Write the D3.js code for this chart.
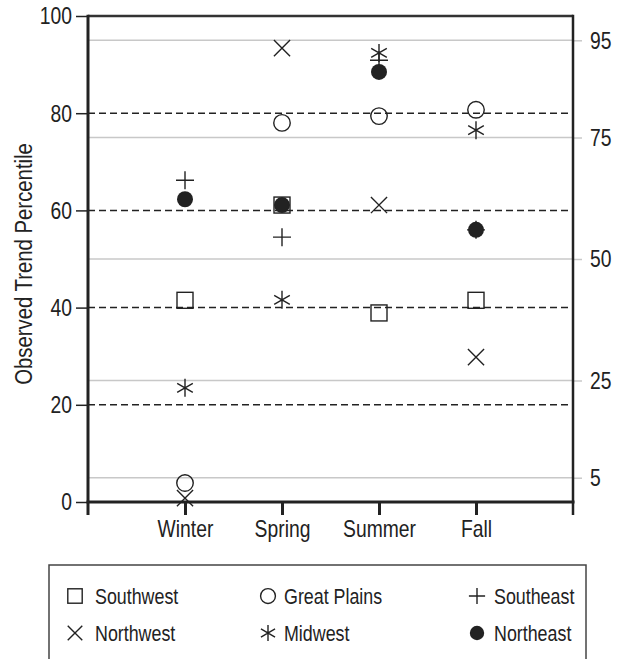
<!DOCTYPE html>
<html>
<head>
<meta charset="utf-8">
<script src="https://cdn.jsdelivr.net/npm/d3@7/dist/d3.min.js"></script>
<style>
  html, body { margin: 0; padding: 0; background: #fff; }
  svg { display: block; }
</style>
</head>
<body>
<script>
// ---- data ----
const seasons = ["Winter", "Spring", "Summer", "Fall"];
const regionNames = ["Southwest", "Great Plains", "Southeast", "Northwest", "Midwest", "Northeast"];
const southwest   = [41.5, 61.1, 38.9, 41.5];
const greatPlains = [3.9, 78.0, 79.4, 80.7];
const southeast   = [66.2, 54.5, 90.9, 56.0];
const northwest   = [0.8, 93.4, 61.1, 29.8];
const midwest     = [23.5, 41.6, 92.4, 76.5];
const northeast   = [62.3, 61.1, 88.5, 56.0];
const leftTicks   = [0, 20, 40, 60, 80, 100];
const dashedLevels = [20, 40, 60, 80];
const rightTicks  = [5, 25, 50, 75, 95];
const yTitle = "Observed Trend Percentile";

const FONT = "'Liberation Sans', Arial, Helvetica, sans-serif";
const INK = "#222";
const K = 0.84; // horizontal condensing of the text

const W = 626, H = 659;
const plot = {left: 88, right: 573, top: 16, bottom: 502};

const svg = d3.select("body").append("svg").attr("width", W).attr("height", H)
  .style("font-family", FONT);

const x = d3.scalePoint().domain(seasons).range([plot.left, plot.right]).padding(1);
const y = d3.scaleLinear().domain([0, 100]).range([plot.bottom, plot.top]);

// condense text horizontally around its anchor point
function condense(sel, k) {
  sel.each(function () {
    const t = d3.select(this);
    const tx = +t.attr("x") || 0, ty = +t.attr("y") || 0;
    t.attr("x", 0).attr("y", 0).attr("transform", `translate(${tx},${ty}) scale(${k},1)`);
  });
}

// gridlines (light) at right-axis levels
svg.append("g").selectAll("line").data(rightTicks).join("line")
  .attr("x1", plot.left).attr("x2", plot.right)
  .attr("y1", d => y(d)).attr("y2", d => y(d))
  .attr("stroke", "#c8c8c8").attr("stroke-width", 1.5);

// dashed lines
svg.append("g").selectAll("line").data(dashedLevels).join("line")
  .attr("x1", plot.left).attr("x2", plot.right)
  .attr("y1", d => y(d)).attr("y2", d => y(d))
  .attr("stroke", INK).attr("stroke-width", 1.5).attr("stroke-dasharray", "7,4");

// left axis
const gl = svg.append("g").attr("transform", `translate(${plot.left},0)`)
  .call(d3.axisLeft(y).tickValues(leftTicks).tickSize(12).tickPadding(4));
gl.select(".domain").remove();
gl.selectAll(".tick line").attr("stroke", INK).attr("stroke-width", 1.5);
gl.selectAll(".tick text").attr("fill", INK).style("font-size", "23px").style("font-family", FONT).attr("dy", "0.34em")
  .call(condense, K);

// right axis
const gr = svg.append("g").attr("transform", `translate(${plot.right},0)`)
  .call(d3.axisRight(y).tickValues(rightTicks).tickSize(9).tickPadding(8));
gr.select(".domain").remove();
gr.selectAll(".tick line").attr("stroke", "#c8c8c8").attr("stroke-width", 1.5);
gr.selectAll(".tick text").attr("fill", INK).style("font-size", "23px").style("font-family", FONT).attr("dy", "0.34em")
  .call(condense, K);

// bottom axis
const gb = svg.append("g").attr("transform", `translate(0,${plot.bottom})`)
  .call(d3.axisBottom(x).tickSize(13).tickPadding(6));
gb.select(".domain").remove();
gb.selectAll(".tick line").attr("stroke", INK).attr("stroke-width", 3);
gb.selectAll(".tick text").attr("fill", INK).style("font-size", "23px").style("font-family", FONT)
  .call(condense, K);

// frame lines
svg.append("line").attr("x1", plot.left).attr("x2", plot.right).attr("y1", plot.top).attr("y2", plot.top)
  .attr("stroke", "#333").attr("stroke-width", 2.5);
svg.append("line").attr("x1", plot.left - 1.5).attr("x2", plot.right + 1.5).attr("y1", plot.bottom).attr("y2", plot.bottom)
  .attr("stroke", INK).attr("stroke-width", 3);
svg.append("line").attr("x1", plot.left).attr("x2", plot.left).attr("y1", plot.top - 1.25).attr("y2", 515)
  .attr("stroke", INK).attr("stroke-width", 3);
svg.append("line").attr("x1", plot.right).attr("x2", plot.right).attr("y1", plot.top - 1.25).attr("y2", 515)
  .attr("stroke", INK).attr("stroke-width", 2.5);

// y title
svg.append("text").attr("transform", `translate(24,${(plot.top + plot.bottom) / 2 + 5}) rotate(-90) scale(0.83,1)`)
  .attr("text-anchor", "middle").attr("dominant-baseline", "central")
  .attr("fill", INK).style("font-size", "24.5px").text(yTitle);

// ---- symbols ----
function drawSymbol(g, type, cx, cy, s) {
  const h = s / 2;
  const stroke = {stroke: INK, "stroke-width": 1.4, fill: "none"};
  const apply = (sel, attrs) => { for (const k in attrs) sel.attr(k, attrs[k]); return sel; };
  if (type === "square") {
    apply(g.append("rect").attr("x", cx - h).attr("y", cy - h).attr("width", s).attr("height", s), stroke);
  } else if (type === "circle") {
    apply(g.append("circle").attr("cx", cx).attr("cy", cy).attr("r", h), stroke);
  } else if (type === "plus") {
    apply(g.append("path").attr("d", `M${cx - h},${cy}H${cx + h}M${cx},${cy - h}V${cy + h}`), stroke);
  } else if (type === "x") {
    const d = h * 0.95;
    apply(g.append("path").attr("d", `M${cx - d},${cy - d}L${cx + d},${cy + d}M${cx - d},${cy + d}L${cx + d},${cy - d}`), stroke);
  } else if (type === "asterisk") {
    const dx = h * 0.87, dy = h * 0.5;
    apply(g.append("path").attr("d",
      `M${cx},${cy - h}V${cy + h}M${cx - dx},${cy - dy}L${cx + dx},${cy + dy}M${cx - dx},${cy + dy}L${cx + dx},${cy - dy}`), stroke);
  } else if (type === "dot") {
    g.append("circle").attr("cx", cx).attr("cy", cy).attr("r", h).attr("fill", INK);
  }
}

const series = [
  {name: regionNames[0], type: "square",   values: southwest,   size: 16},
  {name: regionNames[1], type: "circle",   values: greatPlains, size: 16.5},
  {name: regionNames[2], type: "plus",     values: southeast,   size: 18},
  {name: regionNames[3], type: "x",        values: northwest,   size: 17},
  {name: regionNames[4], type: "asterisk", values: midwest,     size: 18},
  {name: regionNames[5], type: "dot",      values: northeast,   size: 16}
];

const marks = svg.append("g");
series.forEach(s => {
  s.values.forEach((v, i) => {
    drawSymbol(marks.append("g"), s.type, x(seasons[i]), y(v), s.size);
  });
});

// ---- legend ----
const lg = svg.append("g");
lg.append("rect").attr("x", 49).attr("y", 565).attr("width", 537).attr("height", 130)
  .attr("fill", "none").attr("stroke", "#444").attr("stroke-width", 1.5);
const colSym = [75, 268, 477];
const colText = [95, 284, 494];
const rowY = [596, 633];
series.forEach((s, k) => {
  const col = k % 3, row = Math.floor(k / 3);
  drawSymbol(lg.append("g"), s.type, colSym[col], rowY[row], s.size * 0.9);
  lg.append("text").attr("x", colText[col]).attr("y", rowY[row]).attr("dy", "0.35em")
    .attr("fill", INK).style("font-size", "21.5px").text(s.name)
    .call(condense, 0.83);
});
</script>
</body>
</html>
